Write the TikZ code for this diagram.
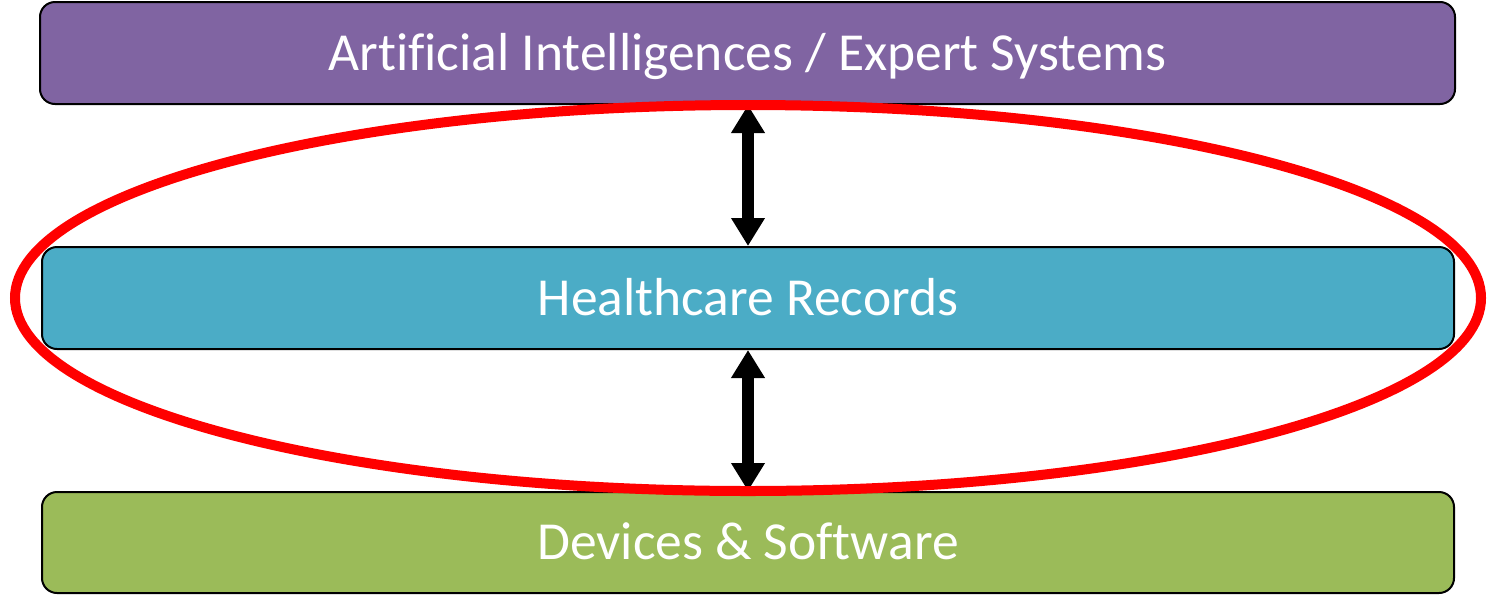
\documentclass[tikz,border=0pt]{standalone}
\usepackage{fontspec}
\setmainfont[Ligatures={NoCommon}]{Carlito}
\usetikzlibrary{arrows.meta}
\definecolor{aipurple}{HTML}{8064A2}
\definecolor{hrblue}{HTML}{4BACC6}
\definecolor{dsgreen}{HTML}{9BBB59}
\tikzset{
  layerbox/.style={draw=black, line width=2pt, rounded corners=15pt, inner sep=0pt,
    text=white, font=\fontsize{53.5}{60}\selectfont, text height=34pt, text depth=0pt, anchor=center},
  linkarrow/.style={line width=12pt, {Triangle[length=28pt,width=32pt]}-{Triangle[length=28pt,width=32pt]}, black},
  ring/.style={draw=red, line width=10pt}
}
\begin{document}
\begin{tikzpicture}[x=1pt,y=-1pt]
\useasboundingbox (0,0) rectangle (1487,595);
\node[layerbox, fill=aipurple, minimum width=1415pt, minimum height=102pt] (ai) at (747.5,53) {Artificial Intelligences / Expert Systems};
\node[layerbox, fill=hrblue, minimum width=1412pt, minimum height=102pt] (hr) at (748,298) {Healthcare Records};
\node[layerbox, fill=dsgreen, minimum width=1412pt, minimum height=101pt] (ds) at (748,542.5) {Devices \& Software};
\draw[linkarrow] (ai.south -| hr.center) -- (hr.north);
\draw[linkarrow] (hr.south) -- (ds.north);
\draw[ring] (hr.center) ellipse [x radius=733pt, y radius=193pt];
\end{tikzpicture}
\end{document}
